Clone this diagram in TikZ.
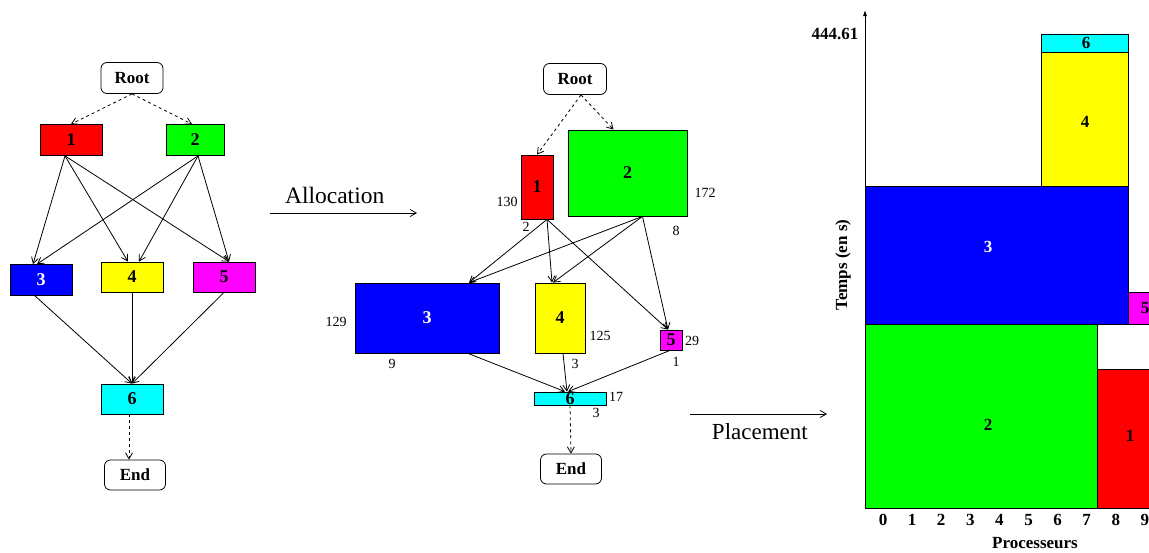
\documentclass[tikz,border=0pt]{standalone}
\usepackage{fontspec}
\setmainfont{Liberation Serif}
\usetikzlibrary{arrows.meta}
\definecolor{tred}{RGB}{255,0,0}
\definecolor{tgreen}{RGB}{0,255,0}
\definecolor{tblue}{RGB}{0,0,255}
\definecolor{tyellow}{RGB}{255,255,0}
\definecolor{tmagenta}{RGB}{255,0,255}
\definecolor{tcyan}{RGB}{0,255,255}
\tikzset{
	tasknode/.style = {draw=black, inner sep=0pt, text centered,
		font=\bfseries\fontsize{18}{18}\selectfont},
	term/.style = {tasknode, rounded corners=6pt, fill=white,
		font=\bfseries\fontsize{17}{17}\selectfont,
		minimum width=62pt, minimum height=31pt},% noeud Root / End
	tsk/.style = {tasknode, fill=#1},% tache coloree
	num/.style = {inner sep=0pt, font=\fontsize{14}{14}\selectfont},% processeurs / duree
	blk/.style = {draw=black, fill=#1},% bloc du diagramme de Gantt
	blab/.style = {inner sep=0pt, font=\bfseries\fontsize{17}{17}\selectfont}
}
\begin{document}
\begin{tikzpicture}[x=1pt,y=-1pt,line width=0.8pt,
		>={Straight Barb[length=6pt,width=7pt]}]
	\clip (0,0) rectangle (1149,552);
	% graphe de taches
	\node[term] (rootA) at (132,78) {Root};
	\node[tsk=tred, minimum width=62pt, minimum height=31pt] (a1) at (71,140) {1};
	\node[tsk=tgreen, minimum width=58pt, minimum height=31pt] (a2) at (195,140) {2};
	\node[tsk=tblue, text=white, minimum width=62pt, minimum height=31pt] (a3) at (41,280) {3};
	\node[tsk=tyellow, minimum width=62pt, minimum height=30pt] (a4) at (132,277) {4};
	\node[tsk=tmagenta, minimum width=62pt, minimum height=30pt] (a5) at (224,277) {5};
	\node[tsk=tcyan, minimum width=62pt, minimum height=30pt] (a6) at (132,399) {6};
	\node[term, minimum width=61pt, minimum height=30pt] (endA) at (135,475) {End};
	\draw[->,dashed] (rootA.south) -- (a1.north);
	\draw[->,dashed] (rootA.south) -- ([xshift=-3pt]a2.north);
	\draw[->] ([xshift=-6pt]a1.south) -- ([xshift=-8pt]a3.north);
	\draw[->] ([xshift=-6pt]a1.south) -- ([xshift=-4pt]a4.north);
	\draw[->] ([xshift=-6pt]a1.south) -- ([xshift=5pt]a5.north);
	\draw[->] ([xshift=3pt]a2.south) -- ([xshift=-4pt]a3.north);
	\draw[->] ([xshift=3pt]a2.south) -- ([xshift=7pt]a4.north);
	\draw[->] ([xshift=3pt]a2.south) -- ([xshift=5pt]a5.north);
	\draw[->] ([xshift=-6pt]a3.south) -- (a6.north);
	\draw[->] (a4.south) -- (a6.north);
	\draw[->] (a5.south) -- (a6.north);
	\draw[->,dashed] ([xshift=-3pt]a6.south) -- ([xshift=-6pt]endA.north);

	\coordinate (allocS) at (270,213);
	\coordinate (allocE) at (417,213);
	\draw[->] (allocS) -- (allocE)
		node[pos=0.44, above=6pt, font=\fontsize{23.5}{23.5}\selectfont] {Allocation};

	% graphe alloue
	\node[term, minimum width=63pt] (rootB) at (575,79) {Root};
	\node[tsk=tred, minimum width=32pt, minimum height=64pt] (b1) at (537,187) {1};
	\node[tsk=tgreen, minimum width=119pt, minimum height=86pt] (b2) at (627.5,173) {2};
	\node[tsk=tblue, text=white, minimum width=144pt, minimum height=70pt] (b3) at (427,318) {3};
	\node[tsk=tyellow, minimum width=50pt, minimum height=70pt] (b4) at (560,318) {4};
	\node[tsk=tmagenta, minimum width=22pt, minimum height=20pt] (b5) at (671,340) {5};
	\node[tsk=tcyan, minimum width=72pt, minimum height=13pt] (b6) at (570,398.5) {6};
	\node[term, minimum width=61pt, minimum height=30pt] (endB) at (571,469) {End};
	\draw[->,dashed] ([xshift=6pt]rootB.south) -- (b1.north);
	\draw[->,dashed] ([xshift=6pt]rootB.south) -- ([xshift=-14pt]b2.north);
	\draw[->] ([xshift=10pt]b1.south) -- ([xshift=42pt]b3.north);
	\draw[->] ([xshift=10pt]b1.south) -- ([xshift=-8pt]b4.north);
	\draw[->] ([xshift=10pt]b1.south) -- ([xshift=-3pt]b5.north);
	\draw[->] ([xshift=15pt]b2.south) -- ([xshift=42pt]b3.north);
	\draw[->] ([xshift=15pt]b2.south) -- ([xshift=-7pt]b4.north);
	\draw[->] ([xshift=15pt]b2.south) -- ([xshift=-3pt]b5.north);
	\draw[->] ([xshift=41pt]b3.south) -- ([xshift=-5pt]b6.north);
	\draw[->] ([xshift=3pt]b4.south) -- ([xshift=-3pt]b6.north);
	\draw[->] ([xshift=-1pt]b5.south) -- ([xshift=-2pt]b6.north);
	\draw[->,dashed] (b6.south) -- (endB.north);
	\node[num] at (507,202) {130};
	\node[num] at (526,227) {2};
	\node[num] at (705,193) {172};
	\node[num] at (676,231) {8};
	\node[num] at (336,322) {129};
	\node[num] at (392,364) {9};
	\node[num] at (600,336) {125};
	\node[num] at (575,364) {3};
	\node[num] at (692,341) {29};
	\node[num] at (676,362) {1};
	\node[num] at (616,397) {17};
	\node[num] at (596,413) {3};

	\coordinate (placS) at (690,414);
	\coordinate (placE) at (827,414);
	\draw[->] (placS) -- (placE)
		node[pos=0.51, below=6pt, font=\fontsize{23}{23}\selectfont] {Placement};

	% diagramme de Gantt
	\draw[blk=tgreen] (865,508) rectangle (1097,324);
	\node[blab] at (988,425) {2};
	\draw[blk=tred] (1097,508) rectangle (1163,369);
	\node[blab] at (1130,436) {1};
	\draw[blk=tblue] (865,324) rectangle (1128,186);
	\node[blab, text=white] at (988,247) {3};
	\draw[blk=tmagenta] (1128,324) rectangle (1160,292);
	\node[blab] at (1145,308) {5};
	\draw[blk=tyellow] (1041,186) rectangle (1128,52);
	\node[blab] at (1085,122) {4};
	\draw[blk=tcyan] (1041,52) rectangle (1128,34);
	\node[blab] at (1086,43) {6};
	\draw[-{Latex[length=6pt,width=4pt]}] (865,508) -- (865,10);
	\draw (865,508) -- (1160,508);
	\foreach \p in {0,...,9}
		\node[blab] at (883+29.1*\p,520) {\p};
	\node[blab] at (1035,543) {Processeurs};
	\node[blab, rotate=90] at (843,265) {Temps (en s)};
	\node[blab] at (835,34) {444.61};
\end{tikzpicture}
\end{document}
